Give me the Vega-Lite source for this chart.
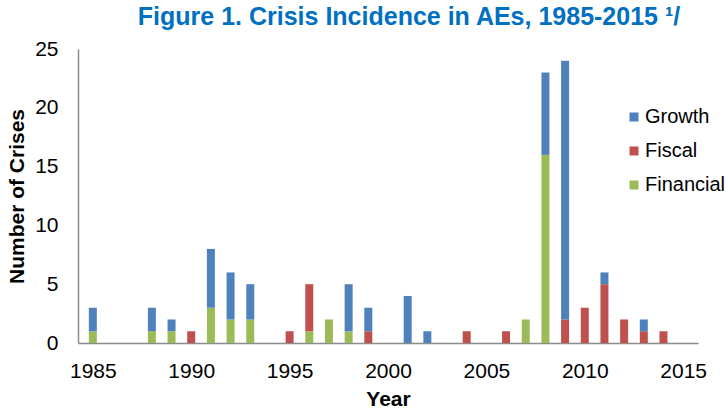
{
  "$schema": "https://vega.github.io/schema/vega-lite/v6.json",
  "width": 620,
  "height": 294,
  "autosize": {"type": "none"},
  "padding": {"left": 78, "top": 49, "right": 28, "bottom": 72},
  "title": {
    "text": "Figure 1. Crisis Incidence in AEs, 1985-2015 ¹/",
    "color": "#0070C0",
    "fontSize": 25,
    "fontWeight": "bold",
    "font": "Liberation Sans",
    "anchor": "middle",
    "frame": "group",
    "dx": 21,
    "offset": 8
  },
  "config": {
    "font": "Liberation Sans",
    "view": {"stroke": null},
    "axis": {
      "grid": false,
      "ticks": false,
      "domainColor": "#8c8c8c",
      "domainWidth": 1.5,
      "labelColor": "#000000",
      "labelFontSize": 21,
      "titleColor": "#000000",
      "titleFontSize": 21,
      "titleFontWeight": "bold"
    }
  },
  "data": {
    "values": [
      {"year": 1985, "type": "Financial", "count": 1},
      {"year": 1985, "type": "Growth", "count": 2},
      {"year": 1988, "type": "Financial", "count": 1},
      {"year": 1988, "type": "Growth", "count": 2},
      {"year": 1989, "type": "Financial", "count": 1},
      {"year": 1989, "type": "Growth", "count": 1},
      {"year": 1990, "type": "Fiscal", "count": 1},
      {"year": 1991, "type": "Financial", "count": 3},
      {"year": 1991, "type": "Growth", "count": 5},
      {"year": 1992, "type": "Financial", "count": 2},
      {"year": 1992, "type": "Growth", "count": 4},
      {"year": 1993, "type": "Financial", "count": 2},
      {"year": 1993, "type": "Growth", "count": 3},
      {"year": 1995, "type": "Fiscal", "count": 1},
      {"year": 1996, "type": "Financial", "count": 1},
      {"year": 1996, "type": "Fiscal", "count": 4},
      {"year": 1997, "type": "Financial", "count": 2},
      {"year": 1998, "type": "Financial", "count": 1},
      {"year": 1998, "type": "Growth", "count": 4},
      {"year": 1999, "type": "Fiscal", "count": 1},
      {"year": 1999, "type": "Growth", "count": 2},
      {"year": 2001, "type": "Growth", "count": 4},
      {"year": 2002, "type": "Growth", "count": 1},
      {"year": 2004, "type": "Fiscal", "count": 1},
      {"year": 2006, "type": "Fiscal", "count": 1},
      {"year": 2007, "type": "Financial", "count": 2},
      {"year": 2008, "type": "Financial", "count": 16},
      {"year": 2008, "type": "Growth", "count": 7},
      {"year": 2009, "type": "Fiscal", "count": 2},
      {"year": 2009, "type": "Growth", "count": 22},
      {"year": 2010, "type": "Fiscal", "count": 3},
      {"year": 2011, "type": "Fiscal", "count": 5},
      {"year": 2011, "type": "Growth", "count": 1},
      {"year": 2012, "type": "Fiscal", "count": 2},
      {"year": 2013, "type": "Fiscal", "count": 1},
      {"year": 2013, "type": "Growth", "count": 1},
      {"year": 2014, "type": "Fiscal", "count": 1}
    ]
  },
  "mark": {"type": "bar", "size": 8},
  "encoding": {
    "x": {
      "field": "year",
      "type": "quantitative",
      "scale": {"domain": [1984.5, 2015.5], "nice": false, "zero": false},
      "axis": {
        "title": "Year",
        "values": [1985, 1990, 1995, 2000, 2005, 2010, 2015],
        "format": "d",
        "labelPadding": 17,
        "titlePadding": 7
      }
    },
    "y": {
      "field": "count",
      "type": "quantitative",
      "stack": "zero",
      "scale": {"domain": [0, 25], "nice": false},
      "axis": {
        "title": "Number of Crises",
        "values": [0, 5, 10, 15, 20, 25],
        "labelPadding": 20,
        "labelBaseline": "middle",
        "labelDy": 5,
        "titlePadding": 7
      }
    },
    "color": {
      "field": "type",
      "type": "nominal",
      "scale": {
        "domain": ["Growth", "Fiscal", "Financial"],
        "range": ["#4F81BD", "#C0504D", "#9BBB59"]
      },
      "legend": {
        "title": null,
        "orient": "none",
        "legendX": 546,
        "legendY": 58,
        "symbolType": "square",
        "symbolSize": 81,
        "symbolStrokeWidth": 0,
        "labelFontSize": 20,
        "labelColor": "#000000",
        "labelLimit": 200,
        "rowPadding": 14,
        "labelOffset": 1
      }
    },
    "order": {"field": "type", "sort": "ascending"}
  }
}
